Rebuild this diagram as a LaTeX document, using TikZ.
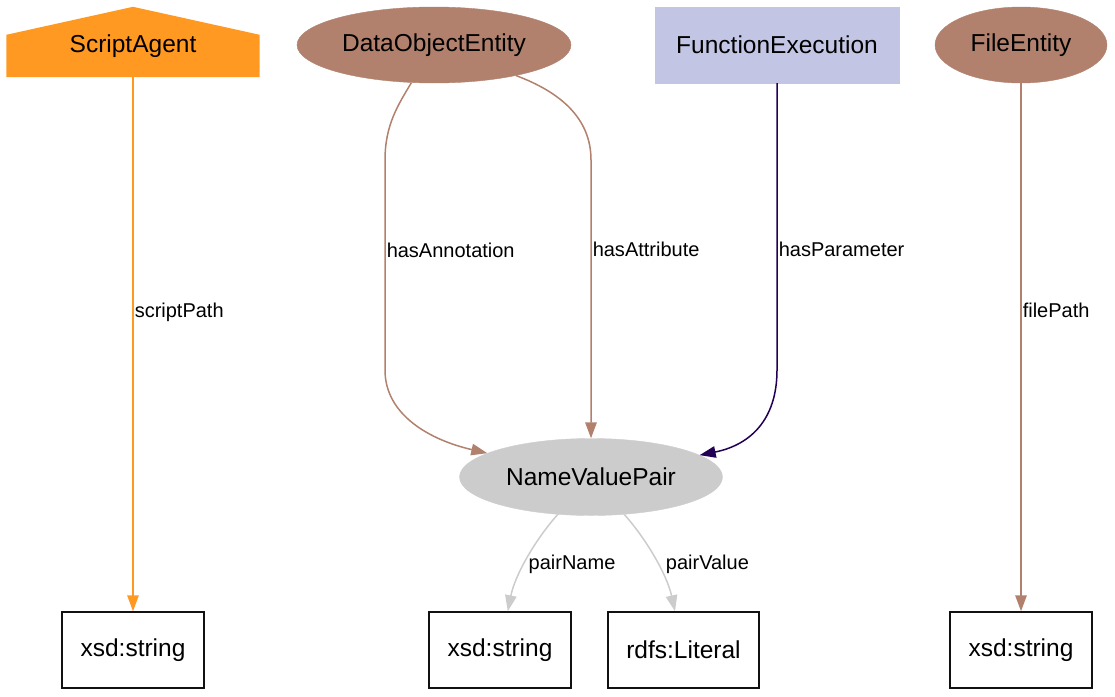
\documentclass[tikz,border=0pt]{standalone}
\usepackage{fontspec}
\setmainfont{Liberation Sans}
\usepackage{tikz}
\usetikzlibrary{shapes.geometric,arrows.meta,positioning,backgrounds}
\usepackage{xcolor}
\definecolor{ogOrange}{HTML}{FF9922}
\definecolor{ogBrown}{HTML}{B2816D}
\definecolor{ogLavender}{HTML}{C2C6E4}
\definecolor{ogPurple}{HTML}{220055}
\definecolor{ogGrey}{HTML}{CCCCCC}
\definecolor{ogInk}{HTML}{111111}
\tikzset{
  nfont/.style={font=\fontsize{24.5}{28}\selectfont},
  ent/.style={ellipse, nfont, fill=ogBrown, draw=ogBrown, inner sep=0pt, minimum height=76pt},
  agt/.style={rectangle, nfont, inner sep=0pt, text height=26pt, minimum width=253pt, minimum height=70pt},
  act/.style={rectangle, nfont, fill=ogLavender, draw=ogLavender, inner sep=0pt, minimum width=244pt, minimum height=76pt},
  nvp/.style={ellipse, nfont, fill=ogGrey, draw=ogGrey, inner sep=0pt, minimum width=263pt, minimum height=77pt},
  dtype/.style={rectangle, nfont, draw=ogInk, line width=1.5pt, inner sep=0pt, minimum width=142pt, minimum height=76pt},
  arr/.style={-{Triangle[length=16pt, width=11.5pt]}, line width=1.5pt},
  arrO/.style={arr, draw=ogOrange},
  arrB/.style={arr, draw=ogBrown},
  arrP/.style={arr, draw=ogPurple},
  arrG/.style={arr, draw=ogGrey},
  elbl/.style={anchor=west, inner sep=1pt, text=black, font=\fontsize{20}{24}\selectfont},
}

\begin{document}
\begin{tikzpicture}[x=1pt, y=-1pt]
  \useasboundingbox (0,0) rectangle (1115,696);

  \node[agt] (agent) at (133,42) {ScriptAgent};
  \node[ent, minimum width=274pt] (dobj) at (434,45) {DataObjectEntity};
  \node[act] (func) at (777,45) {FunctionExecution};
  \node[ent, minimum width=172pt] (file) at (1021,45) {FileEntity};
  \node[nvp] (pair) at (591,477) {NameValuePair};
  \node[dtype] (xs1) at (133,650) {xsd:string};
  \node[dtype] (xs2) at (500,650) {xsd:string};
  \node[dtype, minimum width=151pt] (lit) at (683.5,650) {rdfs:Literal};
  \node[dtype] (xs3) at (1021,650) {xsd:string};

  \begin{scope}[on background layer]
    \fill[ogOrange] (agent.south west) -- ([yshift=-28pt]agent.north west) -- (agent.north)
      -- ([yshift=-28pt]agent.north east) -- (agent.south east) -- cycle;
  \end{scope}

  \draw[arrO] (agent) -- node[elbl, pos=.44] {scriptPath} (xs1);
  \draw[arrB] (dobj) .. controls (398,105) and (385,125) .. (385,160)
    -- node[elbl, pos=.43] {hasAnnotation} (385,370)
    .. controls (385,415) and (430,440) .. (pair);
  \draw[arrB] (dobj) .. controls (560,92) and (591,118) .. (591,160)
    -- node[elbl, pos=.32] {hasAttribute} (pair);
  \draw[arrP] (func) -- node[elbl, pos=.58] {hasParameter} (777,370)
    .. controls (777,420) and (750,445) .. (pair);
  \draw[arrB] (file) -- node[elbl, pos=.43] {filePath} (xs3);
  \draw[arrG] (pair) .. controls (535,540) and (515,575) .. node[elbl, pos=.5, yshift=-5pt] {pairName} (xs2);
  \draw[arrG] (pair) .. controls (647,540) and (667,575) .. node[elbl, pos=.5, xshift=9pt, yshift=-5pt] {pairValue} (lit);
\end{tikzpicture}
\end{document}
